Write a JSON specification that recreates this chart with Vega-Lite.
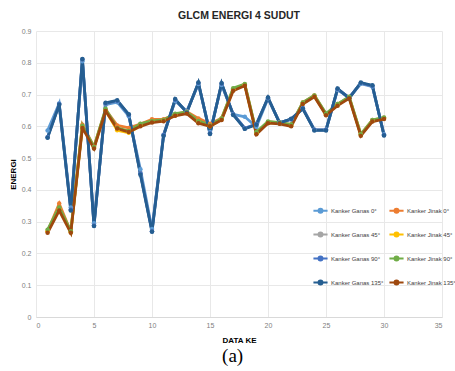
{
  "$schema": "https://vega.github.io/schema/vega-lite/v6.json",
  "padding": {"left": 9, "top": 10, "right": 0, "bottom": 0},
  "background": "white",
  "title": {"text": "(a)", "orient": "bottom", "font": "Liberation Serif", "fontSize": 19, "fontWeight": "normal", "color": "#000000", "offset": 3, "anchor": "middle"},
  "config": {"view": {"stroke": null}, "concat": {"spacing": 0}},
  "vconcat": [
    {
      "width": 406,
      "height": 286,
      "title": {"text": "GLCM ENERGI 4 SUDUT", "font": "Liberation Sans", "fontSize": 10.5, "fontWeight": "bold", "color": "#262626", "offset": 6, "anchor": "middle"},
      "data": {"values": [
        {"x": 1, "Kanker Ganas 0°": 0.587, "Kanker Jinak 0°": 0.27, "Kanker Ganas 45°": 0.566, "Kanker Jinak 45°": 0.27, "Kanker Ganas 90°": 0.566, "Kanker Jinak 90°": 0.275, "Kanker Ganas 135°": 0.564, "Kanker Jinak 135°": 0.265},
        {"x": 2, "Kanker Ganas 0°": 0.672, "Kanker Jinak 0°": 0.357, "Kanker Ganas 45°": 0.67, "Kanker Jinak 45°": 0.34, "Kanker Ganas 90°": 0.67, "Kanker Jinak 90°": 0.345, "Kanker Ganas 135°": 0.668, "Kanker Jinak 135°": 0.335},
        {"x": 3, "Kanker Ganas 0°": 0.345, "Kanker Jinak 0°": 0.268, "Kanker Ganas 45°": 0.338, "Kanker Jinak 45°": 0.267, "Kanker Ganas 90°": 0.338, "Kanker Jinak 90°": 0.27, "Kanker Ganas 135°": 0.335, "Kanker Jinak 135°": 0.265},
        {"x": 4, "Kanker Ganas 0°": 0.805, "Kanker Jinak 0°": 0.605, "Kanker Ganas 45°": 0.81, "Kanker Jinak 45°": 0.6, "Kanker Ganas 90°": 0.81, "Kanker Jinak 90°": 0.602, "Kanker Ganas 135°": 0.812, "Kanker Jinak 135°": 0.595},
        {"x": 5, "Kanker Ganas 0°": 0.295, "Kanker Jinak 0°": 0.536, "Kanker Ganas 45°": 0.288, "Kanker Jinak 45°": 0.533, "Kanker Ganas 90°": 0.288, "Kanker Jinak 90°": 0.535, "Kanker Ganas 135°": 0.286, "Kanker Jinak 135°": 0.53},
        {"x": 6, "Kanker Ganas 0°": 0.668, "Kanker Jinak 0°": 0.652, "Kanker Ganas 45°": 0.672, "Kanker Jinak 45°": 0.65, "Kanker Ganas 90°": 0.672, "Kanker Jinak 90°": 0.655, "Kanker Ganas 135°": 0.674, "Kanker Jinak 135°": 0.648},
        {"x": 7, "Kanker Ganas 0°": 0.676, "Kanker Jinak 0°": 0.603, "Kanker Ganas 45°": 0.68, "Kanker Jinak 45°": 0.588, "Kanker Ganas 90°": 0.68, "Kanker Jinak 90°": 0.595, "Kanker Ganas 135°": 0.682, "Kanker Jinak 135°": 0.593},
        {"x": 8, "Kanker Ganas 0°": 0.632, "Kanker Jinak 0°": 0.595, "Kanker Ganas 45°": 0.636, "Kanker Jinak 45°": 0.58, "Kanker Ganas 90°": 0.636, "Kanker Jinak 90°": 0.585, "Kanker Ganas 135°": 0.638, "Kanker Jinak 135°": 0.582},
        {"x": 9, "Kanker Ganas 0°": 0.465, "Kanker Jinak 0°": 0.607, "Kanker Ganas 45°": 0.452, "Kanker Jinak 45°": 0.602, "Kanker Ganas 90°": 0.452, "Kanker Jinak 90°": 0.608, "Kanker Ganas 135°": 0.448, "Kanker Jinak 135°": 0.6},
        {"x": 10, "Kanker Ganas 0°": 0.277, "Kanker Jinak 0°": 0.622, "Kanker Ganas 45°": 0.27, "Kanker Jinak 45°": 0.615, "Kanker Ganas 90°": 0.27, "Kanker Jinak 90°": 0.617, "Kanker Ganas 135°": 0.268, "Kanker Jinak 135°": 0.612},
        {"x": 11, "Kanker Ganas 0°": 0.573, "Kanker Jinak 0°": 0.622, "Kanker Ganas 45°": 0.573, "Kanker Jinak 45°": 0.618, "Kanker Ganas 90°": 0.573, "Kanker Jinak 90°": 0.62, "Kanker Ganas 135°": 0.57, "Kanker Jinak 135°": 0.616},
        {"x": 12, "Kanker Ganas 0°": 0.68, "Kanker Jinak 0°": 0.638, "Kanker Ganas 45°": 0.683, "Kanker Jinak 45°": 0.635, "Kanker Ganas 90°": 0.683, "Kanker Jinak 90°": 0.64, "Kanker Ganas 135°": 0.686, "Kanker Jinak 135°": 0.633},
        {"x": 13, "Kanker Ganas 0°": 0.648, "Kanker Jinak 0°": 0.646, "Kanker Ganas 45°": 0.645, "Kanker Jinak 45°": 0.643, "Kanker Ganas 90°": 0.645, "Kanker Jinak 90°": 0.645, "Kanker Ganas 135°": 0.643, "Kanker Jinak 135°": 0.64},
        {"x": 14, "Kanker Ganas 0°": 0.733, "Kanker Jinak 0°": 0.625, "Kanker Ganas 45°": 0.736, "Kanker Jinak 45°": 0.615, "Kanker Ganas 90°": 0.736, "Kanker Jinak 90°": 0.617, "Kanker Ganas 135°": 0.738, "Kanker Jinak 135°": 0.61},
        {"x": 15, "Kanker Ganas 0°": 0.582, "Kanker Jinak 0°": 0.608, "Kanker Ganas 45°": 0.578, "Kanker Jinak 45°": 0.6, "Kanker Ganas 90°": 0.578, "Kanker Jinak 90°": 0.603, "Kanker Ganas 135°": 0.576, "Kanker Jinak 135°": 0.6},
        {"x": 16, "Kanker Ganas 0°": 0.73, "Kanker Jinak 0°": 0.625, "Kanker Ganas 45°": 0.734, "Kanker Jinak 45°": 0.622, "Kanker Ganas 90°": 0.734, "Kanker Jinak 90°": 0.625, "Kanker Ganas 135°": 0.736, "Kanker Jinak 135°": 0.62},
        {"x": 17, "Kanker Ganas 0°": 0.638, "Kanker Jinak 0°": 0.717, "Kanker Ganas 45°": 0.638, "Kanker Jinak 45°": 0.715, "Kanker Ganas 90°": 0.638, "Kanker Jinak 90°": 0.72, "Kanker Ganas 135°": 0.636, "Kanker Jinak 135°": 0.712},
        {"x": 18, "Kanker Ganas 0°": 0.63, "Kanker Jinak 0°": 0.732, "Kanker Ganas 45°": 0.594, "Kanker Jinak 45°": 0.73, "Kanker Ganas 90°": 0.594, "Kanker Jinak 90°": 0.733, "Kanker Ganas 135°": 0.592, "Kanker Jinak 135°": 0.728},
        {"x": 19, "Kanker Ganas 0°": 0.598, "Kanker Jinak 0°": 0.58, "Kanker Ganas 45°": 0.607, "Kanker Jinak 45°": 0.578, "Kanker Ganas 90°": 0.607, "Kanker Jinak 90°": 0.582, "Kanker Ganas 135°": 0.605, "Kanker Jinak 135°": 0.575},
        {"x": 20, "Kanker Ganas 0°": 0.688, "Kanker Jinak 0°": 0.614, "Kanker Ganas 45°": 0.689, "Kanker Jinak 45°": 0.612, "Kanker Ganas 90°": 0.689, "Kanker Jinak 90°": 0.615, "Kanker Ganas 135°": 0.691, "Kanker Jinak 135°": 0.61},
        {"x": 21, "Kanker Ganas 0°": 0.612, "Kanker Jinak 0°": 0.612, "Kanker Ganas 45°": 0.612, "Kanker Jinak 45°": 0.61, "Kanker Ganas 90°": 0.612, "Kanker Jinak 90°": 0.612, "Kanker Ganas 135°": 0.61, "Kanker Jinak 135°": 0.608},
        {"x": 22, "Kanker Ganas 0°": 0.622, "Kanker Jinak 0°": 0.605, "Kanker Ganas 45°": 0.622, "Kanker Jinak 45°": 0.603, "Kanker Ganas 90°": 0.622, "Kanker Jinak 90°": 0.606, "Kanker Ganas 135°": 0.624, "Kanker Jinak 135°": 0.6},
        {"x": 23, "Kanker Ganas 0°": 0.657, "Kanker Jinak 0°": 0.675, "Kanker Ganas 45°": 0.657, "Kanker Jinak 45°": 0.672, "Kanker Ganas 90°": 0.657, "Kanker Jinak 90°": 0.675, "Kanker Ganas 135°": 0.655, "Kanker Jinak 135°": 0.67},
        {"x": 24, "Kanker Ganas 0°": 0.589, "Kanker Jinak 0°": 0.697, "Kanker Ganas 45°": 0.589, "Kanker Jinak 45°": 0.695, "Kanker Ganas 90°": 0.589, "Kanker Jinak 90°": 0.697, "Kanker Ganas 135°": 0.587, "Kanker Jinak 135°": 0.693},
        {"x": 25, "Kanker Ganas 0°": 0.589, "Kanker Jinak 0°": 0.638, "Kanker Ganas 45°": 0.589, "Kanker Jinak 45°": 0.637, "Kanker Ganas 90°": 0.589, "Kanker Jinak 90°": 0.64, "Kanker Ganas 135°": 0.587, "Kanker Jinak 135°": 0.635},
        {"x": 26, "Kanker Ganas 0°": 0.715, "Kanker Jinak 0°": 0.67, "Kanker Ganas 45°": 0.717, "Kanker Jinak 45°": 0.668, "Kanker Ganas 90°": 0.717, "Kanker Jinak 90°": 0.67, "Kanker Ganas 135°": 0.719, "Kanker Jinak 135°": 0.665},
        {"x": 27, "Kanker Ganas 0°": 0.69, "Kanker Jinak 0°": 0.692, "Kanker Ganas 45°": 0.69, "Kanker Jinak 45°": 0.69, "Kanker Ganas 90°": 0.69, "Kanker Jinak 90°": 0.693, "Kanker Ganas 135°": 0.688, "Kanker Jinak 135°": 0.688},
        {"x": 28, "Kanker Ganas 0°": 0.734, "Kanker Jinak 0°": 0.575, "Kanker Ganas 45°": 0.736, "Kanker Jinak 45°": 0.573, "Kanker Ganas 90°": 0.736, "Kanker Jinak 90°": 0.575, "Kanker Ganas 135°": 0.738, "Kanker Jinak 135°": 0.57},
        {"x": 29, "Kanker Ganas 0°": 0.725, "Kanker Jinak 0°": 0.62, "Kanker Ganas 45°": 0.727, "Kanker Jinak 45°": 0.617, "Kanker Ganas 90°": 0.727, "Kanker Jinak 90°": 0.62, "Kanker Ganas 135°": 0.729, "Kanker Jinak 135°": 0.615},
        {"x": 30, "Kanker Ganas 0°": 0.575, "Kanker Jinak 0°": 0.627, "Kanker Ganas 45°": 0.573, "Kanker Jinak 45°": 0.625, "Kanker Ganas 90°": 0.573, "Kanker Jinak 90°": 0.628, "Kanker Ganas 135°": 0.571, "Kanker Jinak 135°": 0.623}
      ]},
      "transform": [
        {"fold": ["Kanker Ganas 0°", "Kanker Jinak 0°", "Kanker Ganas 45°", "Kanker Jinak 45°", "Kanker Ganas 90°", "Kanker Jinak 90°", "Kanker Ganas 135°", "Kanker Jinak 135°"], "as": ["series", "v"]}
      ],
      "mark": {"type": "line", "strokeWidth": 2.8, "point": {"filled": true, "size": 20}},
      "encoding": {
        "x": {
          "field": "x", "type": "quantitative",
          "scale": {"domain": [0, 35], "nice": false, "zero": false},
          "axis": {"title": "DATA KE", "titleFont": "Liberation Sans", "titleFontSize": 8, "titleFontWeight": "bold", "titleColor": "#000000", "titlePadding": 8,
                   "labelFont": "Liberation Sans", "labelFontSize": 7, "labelColor": "#808080", "labelPadding": 4,
                   "ticks": false, "values": [0, 5, 10, 15, 20, 25, 30, 35], "grid": true, "gridColor": "#e8e8e8", "domainColor": "#d9d9d9"}
        },
        "y": {
          "field": "v", "type": "quantitative",
          "scale": {"domain": [0, 0.9], "nice": false},
          "axis": {"title": "ENERGI", "titleFont": "Liberation Sans", "titleFontSize": 8, "titleFontWeight": "bold", "titleColor": "#000000", "titlePadding": 4,
                   "labelFont": "Liberation Sans", "labelFontSize": 7, "labelColor": "#808080", "labelPadding": 5, "format": ".1~f",
                   "ticks": false, "values": [0, 0.1, 0.2, 0.3, 0.4, 0.5, 0.6, 0.7, 0.8, 0.9], "grid": true, "gridColor": "#e8e8e8", "domain": false}
        },
        "color": {
          "field": "series", "type": "nominal",
          "scale": {
            "domain": ["Kanker Ganas 0°", "Kanker Ganas 45°", "Kanker Ganas 90°", "Kanker Ganas 135°", "Kanker Jinak 0°", "Kanker Jinak 45°", "Kanker Jinak 90°", "Kanker Jinak 135°"],
            "range": ["#5B9BD5", "#A5A5A5", "#4472C4", "#255E91", "#ED7D31", "#FFC000", "#70AD47", "#9E480E"]
          },
          "legend": {
            "title": null, "orient": "none", "legendX": 276, "legendY": 171, "columns": 2,
            "symbolType": "M-1,0H1M-0.28,0A0.28,0.28 0 1,1 0.28,0A0.28,0.28 0 1,1 -0.28,0Z",
            "symbolStrokeWidth": 2, "symbolSize": 200,
            "labelFont": "Liberation Sans", "labelFontSize": 6, "labelColor": "#404040", "labelOffset": 2,
            "rowPadding": 9, "columnPadding": 1, "padding": 0,
            "encode": {"symbols": {"update": {"fill": {"scale": "color", "field": "value"}, "fillOpacity": {"value": 1}}}}
          }
        }
      }
    }
  ]
}
